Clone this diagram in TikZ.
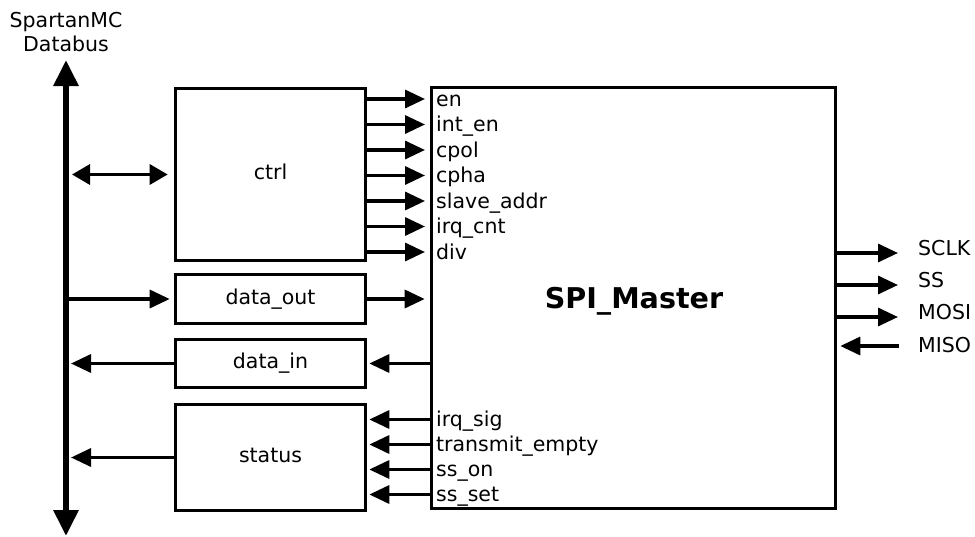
\documentclass[tikz,border=0pt]{standalone}
\usepackage{fontspec}
\setmainfont{DejaVu Sans}
\usetikzlibrary{arrows.meta}
\begin{document}
\begin{tikzpicture}[x=1pt,y=-1pt,
  box/.style={draw, line width=3.6pt, inner sep=0pt, font=\fontsize{20.5}{24}\selectfont,
    text height=14pt, text depth=4pt},
  sig/.style={line width=3.3pt, -{Triangle[length=20pt,width=18pt]}},
  lbl/.style={anchor=base west, inner sep=0pt, font=\fontsize{20.5}{24}\selectfont},
  bus/.style={line width=6pt, {Triangle[length=26pt,width=24pt]}-{Triangle[length=26pt,width=24pt]}},
]
\useasboundingbox (0,0) rectangle (975,536);
% bus
\coordinate (bt) at (66,60);
\coordinate (bb) at (66,536);
\draw[bus] (bb) -- (bt);
\node[align=center, inner sep=0pt, font=\fontsize{20.5}{24}\selectfont, anchor=base] (dbl) at (66,51) {SpartanMC\\Databus};
% boxes
\node[box, minimum width=190pt, minimum height=172pt] (ctrl) at (270.5,174.5) {ctrl};
\node[box, minimum width=190pt, minimum height=49pt] (dout) at (270.5,299) {data\_out};
\node[box, minimum width=190pt, minimum height=48pt] (din) at (270.5,363.5) {data\_in};
\node[box, minimum width=190pt, minimum height=106pt] (st) at (270.5,457.5) {status};
\node[draw, line width=3.6pt, minimum width=404pt, minimum height=421pt, inner sep=0pt] (spi) at (633.5,298) {};
\node[anchor=base, inner sep=0pt, font=\fontsize{28.6}{30}\selectfont\bfseries] (spil) at (634,308) {SPI\_Master};
% ctrl <-> bus
\draw[line width=3.3pt, {Triangle[length=18pt,width=20pt]}-{Triangle[length=18pt,width=20pt]}, shorten <=6pt, shorten >=6pt] (bt |- ctrl.west) -- (ctrl.west);
% ctrl outputs
\foreach \n/\y/\t in {c1/99/en, c2/124.5/int\_en, c3/150/cpol, c4/175.5/cpha, c5/201/slave\_addr, c6/226.5/irq\_cnt, c7/252/div}{
  \coordinate (\n) at (430,\y);
  \draw[sig, shorten >=5pt] (ctrl.east |- \n) -- (\n);
  \node[lbl] (\n l) at (436,\y+7) {\t};
}
% data_out
\draw[sig, shorten >=4pt] (bt |- dout.west) -- (dout.west);
\draw[sig, shorten >=5pt] (dout.east) -- (spi.west |- dout.east);
% data_in
\draw[sig, shorten >=5pt] (din.west) -- (bt |- din.west);
\draw[sig, shorten >=2pt] (spi.west |- din.east) -- (din.east);
% status
\draw[sig, shorten >=5pt] (st.west) -- (bt |- st.west);
\foreach \n/\y/\t in {q1/419.5/irq\_sig, q2/444.5/transmit\_empty, q3/469.5/ss\_on, q4/494.5/ss\_set}{
  \coordinate (\n) at (430,\y);
  \draw[sig, shorten >=2pt] (\n) -- (st.east |- \n);
  \node[lbl] (\n l) at (436,\y+7) {\t};
}
% right side
\coordinate (o1) at (898,253);
\coordinate (o2) at (898,285);
\coordinate (o3) at (898,317);
\coordinate (o4) at (899,346);
\draw[sig] (spi.east |- o1) -- (o1);
\draw[sig] (spi.east |- o2) -- (o2);
\draw[sig] (spi.east |- o3) -- (o3);
\draw[sig, shorten >=3pt] (o4) -- (spi.east |- o4);
\node[lbl] (l1) at (918,255) {SCLK};
\node[lbl] (l2) at (918,287) {SS};
\node[lbl] (l3) at (918,319) {MOSI};
\node[lbl] (l4) at (918,352) {MISO};
\end{tikzpicture}
\end{document}
